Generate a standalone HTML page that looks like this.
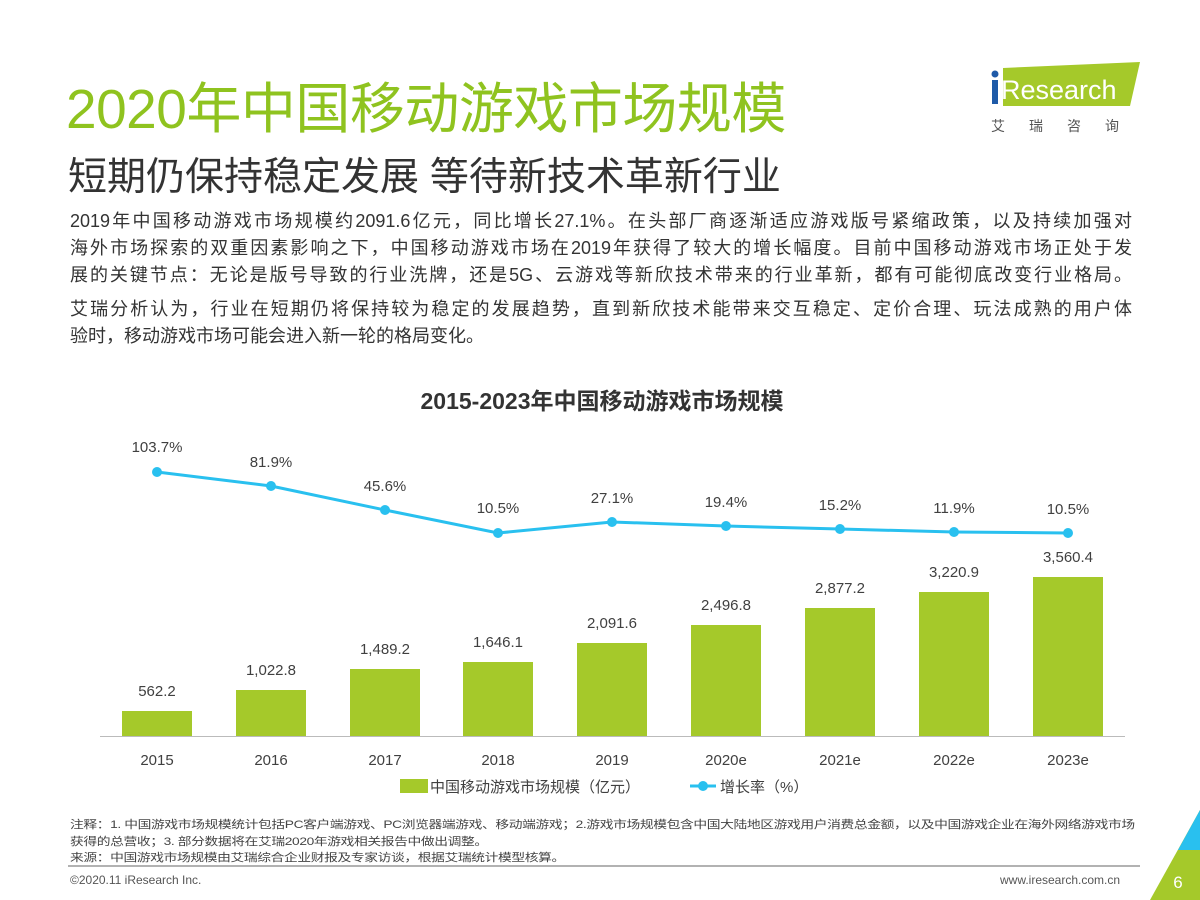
<!DOCTYPE html>
<html><head><meta charset="utf-8"><style>
body{margin:0;width:1200px;height:900px;background:#fff;position:relative;overflow:hidden;font-family:"Liberation Sans","Noto Sans CJK SC",sans-serif;color:#333}
.a{position:absolute;white-space:nowrap}
.p div{width:1062px;text-align:justify;text-align-last:justify;height:27px}
</style></head><body>
<div class="a" style="left:66px;top:64px;font-size:55px;color:#8fc31f;letter-spacing:-0.5px">2020年中国移动游戏市场规模</div>
<div class="a" style="left:68px;top:146px;font-size:39px;color:#333">短期仍保持稳定发展 等待新技术革新行业</div>
<svg class="a" style="left:985px;top:58px" width="160" height="85">
<polygon points="18,10 155,4 145,48 18,48" fill="#a5c92a"/>
<circle cx="10" cy="16" r="3.5" fill="#1e5aa8"/>
<rect x="7" y="22" width="6" height="24" fill="#1e5aa8"/>
<text x="16" y="41" font-size="27" fill="#fff" font-family="Liberation Sans">Research</text>
<text x="6" y="73" font-size="14" fill="#555" font-family="Noto Sans CJK SC" letter-spacing="24">艾瑞咨询</text>
</svg>
<div class="a p" style="left:70px;top:208px;font-size:18px;line-height:27px;color:#333">
<div>2019年中国移动游戏市场规模约2091.6亿元，同比增长27.1%。在头部厂商逐渐适应游戏版号紧缩政策，以及持续加强对</div>
<div>海外市场探索的双重因素影响之下，中国移动游戏市场在2019年获得了较大的增长幅度。目前中国移动游戏市场正处于发</div>
<div>展的关键节点：无论是版号导致的行业洗牌，还是5G、云游戏等新欣技术带来的行业革新，都有可能彻底改变行业格局。</div>
<div style="margin-top:7px">艾瑞分析认为，行业在短期仍将保持较为稳定的发展趋势，直到新欣技术能带来交互稳定、定价合理、玩法成熟的用户体</div>
<div style="text-align-last:left">验时，移动游戏市场可能会进入新一轮的格局变化。</div>
</div>
<div class="a" style="left:0;width:1200px;text-align:center;top:382px;font-size:23px;font-weight:bold;color:#333;padding-left:2px">2015-2023年中国移动游戏市场规模</div>
<svg class="a" style="left:0;top:0" width="1200" height="900" font-family="Liberation Sans" font-size="15" fill="#404040" text-anchor="middle">
<line x1="100" y1="736.5" x2="1125" y2="736.5" stroke="#bbb"/>
<g fill="#a5c92a">
<rect x="122" y="711" width="70" height="25"/><rect x="236" y="690" width="70" height="46"/><rect x="350" y="669" width="70" height="67"/><rect x="463" y="662" width="70" height="74"/><rect x="577" y="643" width="70" height="93"/><rect x="691" y="625" width="70" height="111"/><rect x="805" y="608" width="70" height="128"/><rect x="919" y="592" width="70" height="144"/><rect x="1033" y="577" width="70" height="159"/>
</g>
<text x="157" y="696">562.2</text><text x="271" y="675">1,022.8</text><text x="385" y="654">1,489.2</text><text x="498" y="647">1,646.1</text><text x="612" y="628">2,091.6</text><text x="726" y="610">2,496.8</text><text x="840" y="593">2,877.2</text><text x="954" y="577">3,220.9</text><text x="1068" y="562">3,560.4</text>
<polyline points="157,472 271,486 385,510 498,533 612,522 726,526 840,529 954,532 1068,533" fill="none" stroke="#29c0ef" stroke-width="3"/>
<g fill="#29c0ef"><circle cx="157" cy="472" r="5"/><circle cx="271" cy="486" r="5"/><circle cx="385" cy="510" r="5"/><circle cx="498" cy="533" r="5"/><circle cx="612" cy="522" r="5"/><circle cx="726" cy="526" r="5"/><circle cx="840" cy="529" r="5"/><circle cx="954" cy="532" r="5"/><circle cx="1068" cy="533" r="5"/></g>
<text x="157" y="452">103.7%</text><text x="271" y="467">81.9%</text><text x="385" y="491">45.6%</text><text x="498" y="513">10.5%</text><text x="612" y="503">27.1%</text><text x="726" y="507">19.4%</text><text x="840" y="510">15.2%</text><text x="954" y="513">11.9%</text><text x="1068" y="514">10.5%</text>
<text x="157" y="765">2015</text><text x="271" y="765">2016</text><text x="385" y="765">2017</text><text x="498" y="765">2018</text><text x="612" y="765">2019</text><text x="726" y="765">2020e</text><text x="840" y="765">2021e</text><text x="954" y="765">2022e</text><text x="1068" y="765">2023e</text>
<rect x="400" y="779" width="28" height="14" fill="#a5c92a"/>
<text x="430" y="792" text-anchor="start" font-family="Liberation Sans,Noto Sans CJK SC">中国移动游戏市场规模（亿元）</text>
<line x1="690" y1="786" x2="716" y2="786" stroke="#29c0ef" stroke-width="3"/><circle cx="703" cy="786" r="5" fill="#29c0ef"/>
<text x="720" y="792" text-anchor="start" font-family="Liberation Sans,Noto Sans CJK SC">增长率（%）</text>
<line x1="68" y1="866" x2="1140" y2="866" stroke="#999" stroke-width="1.5"/>
<polygon points="1200,810 1200,900 1150,900" fill="#a5c92a"/>
<polygon points="1200,810 1200,850 1178,850" fill="#29c0ef"/>
<text x="1178" y="888" fill="#fff" font-size="17">6</text>
</svg>
<div class="a" style="left:70px;top:817px;font-size:11px;line-height:16.5px;color:#444;letter-spacing:-0.3px;transform:scaleX(1.25);transform-origin:0 0">注释：1. 中国游戏市场规模统计包括PC客户端游戏、PC浏览器端游戏、移动端游戏；2.游戏市场规模包含中国大陆地区游戏用户消费总金额，以及中国游戏企业在海外网络游戏市场<br>获得的总营收；3. 部分数据将在艾瑞2020年游戏相关报告中做出调整。<br>来源：中国游戏市场规模由艾瑞综合企业财报及专家访谈，根据艾瑞统计模型核算。</div>
<div class="a" style="left:70px;top:873px;font-size:12px;color:#555">©2020.11 iResearch Inc.</div>
<div class="a" style="left:1000px;top:873px;font-size:12px;color:#555">www.iresearch.com.cn</div>
</body></html>
